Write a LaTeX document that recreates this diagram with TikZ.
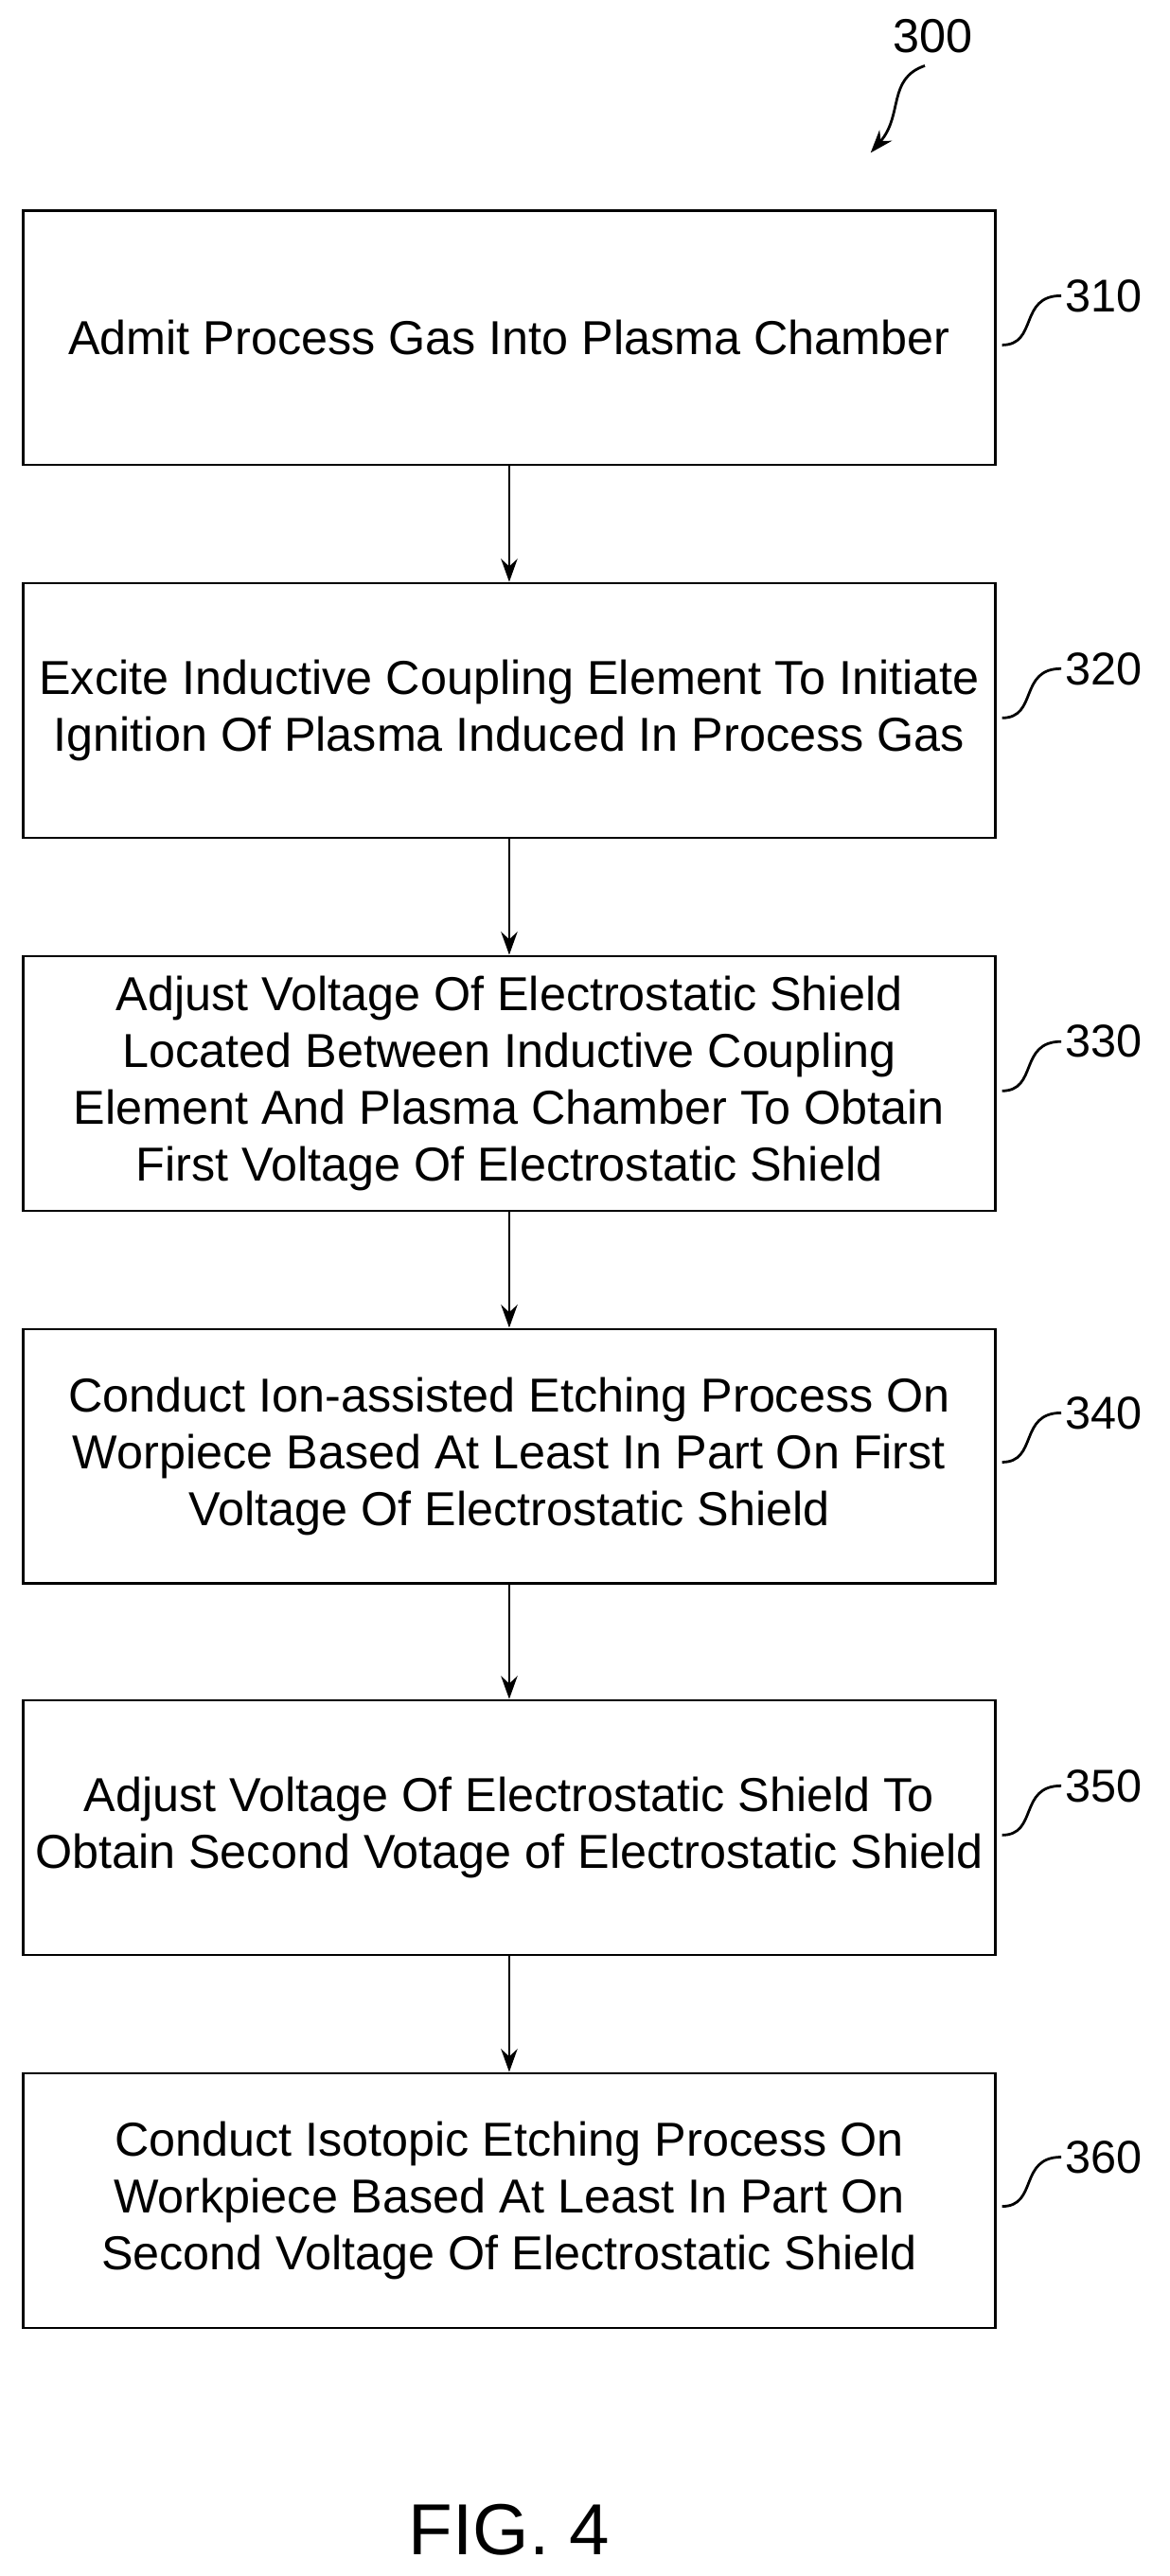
\documentclass[tikz,border=0pt]{standalone}
\usepackage{fontspec}
\setmainfont{Liberation Sans}
\usetikzlibrary{arrows.meta}
\begin{document}
\begin{tikzpicture}[x=0.5pt,y=-0.5pt,
 box/.style={draw,line width=0.8pt,minimum width=296pt,minimum height=77.5pt,align=center,font=\fontsize{14.5}{17.3}\selectfont,inner sep=0pt},
 lab/.style={font=\fontsize{14}{16}\selectfont,anchor=west,inner sep=1pt},
 arr/.style={-{Stealth[length=7pt,width=5pt]},line width=0.8pt},
 sq/.style={line width=0.8pt}]
\useasboundingbox (0,0) rectangle (712,1568);
\node[box] (b1) at (310,205.5) {Admit Process Gas Into Plasma Chamber};
\node[box] (b2) at (310,432.5) {Excite Inductive Coupling Element To Initiate\\Ignition Of Plasma Induced In Process Gas};
\node[box] (b3) at (310,659.5) {Adjust Voltage Of Electrostatic Shield\\Located Between Inductive Coupling\\Element And Plasma Chamber To Obtain\\First Voltage Of Electrostatic Shield};
\node[box] (b4) at (310,886.5) {Conduct Ion-assisted Etching Process On\\Worpiece Based At Least In Part On First\\Voltage Of Electrostatic Shield};
\node[box] (b5) at (310,1112.5) {Adjust Voltage Of Electrostatic Shield To\\Obtain Second  Votage of Electrostatic Shield};
\node[box] (b6) at (310,1339.5) {Conduct Isotopic Etching Process On\\Workpiece Based At Least In Part On\\Second Voltage Of Electrostatic Shield};
\foreach \a/\b in {b1/b2,b2/b3,b3/b4,b4/b5,b5/b6} \draw[arr] (\a) -- (\b);
\foreach \n/\y/\t in {1/180/310,2/407/320,3/634/330,4/860/340,5/1087/350,6/1313/360}{
 \node[lab] (l\n) at (646,\y) {\t};
 \coordinate (s\n) at (610,\y+30);
 \draw[sq] (s\n) .. controls (632,\y+30) and (620,\y) .. (l\n.west);
}
\node[font=\fontsize{14.5}{16}\selectfont] (n300) at (568,22) {300};
\coordinate (t300) at (530,93);
\draw[arr] (563,40) .. controls (540,48) and (550,70) .. (t300);
\node[font=\fontsize{22}{26}\selectfont] (fig) at (310,1540) {FIG. 4};
\end{tikzpicture}
\end{document}
